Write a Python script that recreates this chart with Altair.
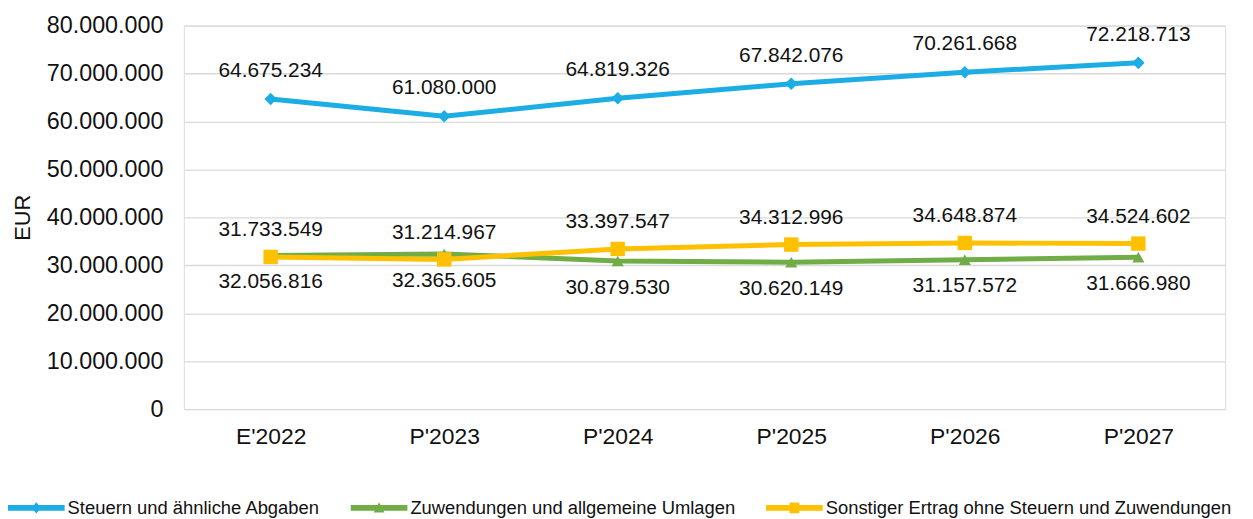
import altair as alt
import pandas as pd

categories = ["E'2022", "P'2023", "P'2024", "P'2025", "P'2026", "P'2027"]
series_names = [
    "Steuern und ähnliche Abgaben",
    "Zuwendungen und allgemeine Umlagen",
    "Sonstiger Ertrag ohne Steuern und Zuwendungen",
]
steuern = [64675234, 61080000, 64819326, 67842076, 70261668, 72218713]
zuwendungen = [32056816, 32365605, 30879530, 30620149, 31157572, 31666980]
sonstiger = [31733549, 31214967, 33397547, 34312996, 34648874, 34524602]
colors = ["#1CADE4", "#70AD47", "#FFC000"]
shapes = ["diamond", "triangle-up", "square"]
shape_sizes = [160, 150, 210]
label_dy = [-28, 27, -27]

legend_paths = [
    "M-1,-0.1H1V0.1H-1Z M0,-0.2L0.17,0L0,0.2L-0.17,0Z",
    "M-1,-0.1H1V0.1H-1Z M0,-0.2L0.19,0.16L-0.19,0.16Z",
    "M-1,-0.1H1V0.1H-1Z M-0.17,-0.19H0.17V0.19H-0.17Z",
]

rows = []
for name, vals in zip(series_names, [steuern, zuwendungen, sonstiger]):
    for c, v in zip(categories, vals):
        rows.append({"cat": c, "series": name, "value": v,
                     "label": f"{v:,}".replace(",", ".")})
df = pd.DataFrame(rows)

FONT = "Liberation Sans"

x_enc = alt.X("cat:N", sort=categories, title=None,
              scale=alt.Scale(type="point", padding=0.5),
              axis=alt.Axis(labelFontSize=23, labelFont=FONT, labelColor="#111111",
                            labelPadding=17, domain=False, ticks=False, grid=False,
                            labelAngle=0))
y_enc = alt.Y("value:Q", title="EUR",
              scale=alt.Scale(domain=[0, 80000000], nice=False),
              axis=alt.Axis(values=[i * 10000000 for i in range(9)], format=",.0f",
                            labelFontSize=23.5, labelFont=FONT, labelColor="#111111",
                            labelPadding=21, domain=False, ticks=False,
                            grid=True, gridColor="#D9D9D9", gridWidth=1.3,
                            titleFont=FONT, titleFontSize=22, titleFontWeight="normal",
                            titleColor="#111111", titleAngle=-90, titleX=-162,
                            titleY=193, titleAlign="center", titleBaseline="middle"))

base = alt.Chart(df)
layers = []
for name, col, shp, sz in zip(series_names, colors, shapes, shape_sizes):
    sub = base.transform_filter(alt.datum.series == name)
    layers.append(sub.mark_line(color=col, strokeWidth=5, strokeCap="round",
                                strokeJoin="round").encode(x=x_enc, y=y_enc))
    layers.append(sub.mark_point(shape=shp, filled=True, size=sz, color=col,
                                 opacity=1).encode(x=x_enc, y=y_enc))
for name, dy in zip(series_names, label_dy):
    sub = base.transform_filter(alt.datum.series == name)
    layers.append(sub.mark_text(font=FONT, fontSize=21, color="#111111", dy=dy,
                                baseline="middle").encode(x=x_enc, y=y_enc, text="label:N"))

# invisible carrier for the legend: pushed out of the clipped plot area
legend_layer = base.mark_point(filled=True, clip=True, yOffset=-3000, opacity=1).encode(
    x=x_enc, y=y_enc,
    color=alt.Color("series:N", sort=series_names,
                    scale=alt.Scale(domain=series_names, range=colors),
                    legend=alt.Legend(title=None, orient="none", direction="horizontal",
                                      legendX=-177, legendY=457,
                                      labelFont=FONT, labelFontSize=18.5,
                                      labelColor="#111111", labelOffset=3,
                                      columnPadding=30, symbolSize=3249,
                                      symbolStrokeWidth=0, symbolOpacity=1,
                                      labelLimit=600)),
    shape=alt.Shape("series:N", sort=series_names,
                    scale=alt.Scale(domain=series_names, range=legend_paths)),
)
layers.insert(0, legend_layer)

chart = alt.layer(*layers).properties(
    width=1048, height=386,
    autosize=alt.AutoSizeParams(type="none"),
    padding={"left": 177, "top": 16, "right": 20, "bottom": 112},
).configure_view(stroke=None).configure(
    locale={"number": {"decimal": ",", "thousands": ".", "grouping": [3],
                       "currency": ["", " €"]}}
)

chart.save("out.html", embed_options={"renderer": "svg", "actions": False})
